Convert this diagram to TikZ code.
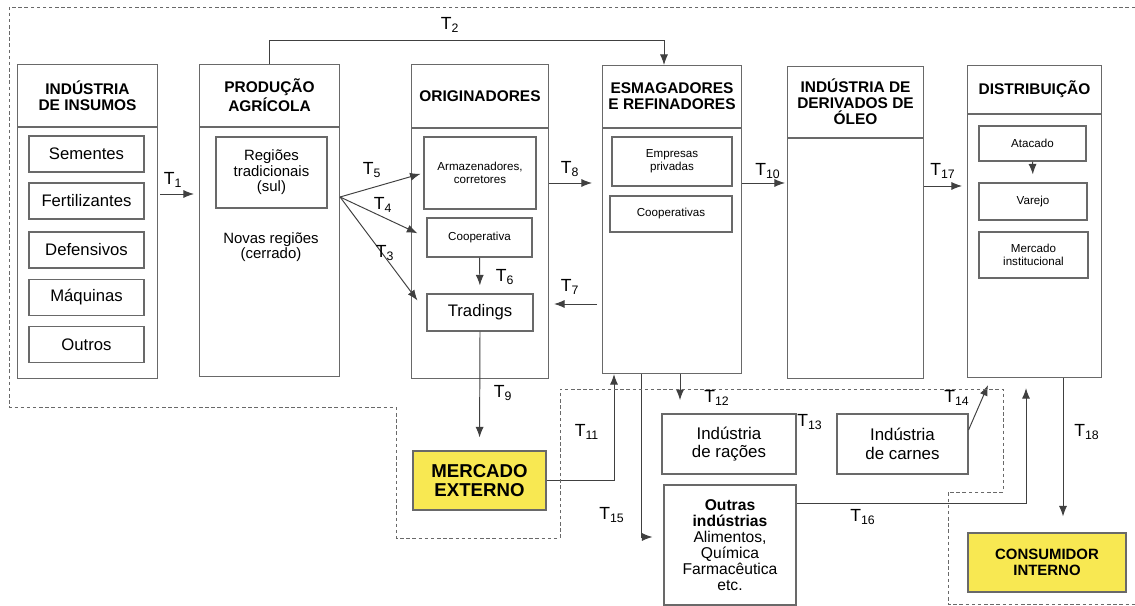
\documentclass[tikz,border=0pt]{standalone}
\usepackage{fontspec}
\setmainfont{Liberation Sans}
\usepackage[dvipsnames]{xcolor}
\usetikzlibrary{calc, arrows.meta}

\definecolor{boxGray}{RGB}{105,105,105}
\definecolor{mktYellow}{RGB}{248,232,82}
\newcommand{\Tsub}[1]{T\textsubscript{#1}}

\begin{document}
\begin{tikzpicture}[
	x=0.2mm, y=-0.2mm,
	hdr/.style={draw=boxGray, line width=.6pt, anchor=north west, align=center, inner sep=0pt, font=\fontsize{8.8}{9.2}\selectfont\bfseries},
	body/.style={draw=boxGray, line width=.6pt, anchor=north, inner sep=0pt},
	item/.style={draw=boxGray, line width=.6pt, align=center, inner sep=0pt, font=\fontsize{9.5}{10}\selectfont},
	small/.style={item, font=\fontsize{6.6}{7.3}\selectfont},
	market/.style={draw=boxGray, line width=.6pt, fill=mktYellow, align=center, inner sep=0pt},
	arrow/.style={-{Latex[length=6pt,width=4.6pt]}, black!75, line width=.55pt},
	tlab/.style={inner sep=0pt, font=\fontsize{10}{10}\selectfont},
	zone/.style={boxGray, line width=.5pt, dash pattern=on 2pt off 1.5pt}
	]
	
	\useasboundingbox (0,0) rectangle (1135,606);
	
	% cadeia principal
	\node[hdr, minimum width=28mm, minimum height=12.4mm] (insH) at (17,64) {INDÚSTRIA\\DE INSUMOS};
	\node[body, minimum width=28mm, minimum height=50.2mm] (insB) at (insH.south) {};
	\node[hdr, minimum width=28mm, minimum height=12.4mm] (prodH) at (199,64) {PRODUÇÃO\\AGRÍCOLA};
	\node[body, minimum width=28mm, minimum height=49.8mm] (prodB) at (prodH.south) {};
	\node[hdr, minimum width=27.4mm, minimum height=12.6mm] (origH) at (411,64) {ORIGINADORES};
	\node[body, minimum width=27.4mm, minimum height=50mm] (origB) at (origH.south) {};
	\node[hdr, minimum width=27.8mm, minimum height=12.4mm] (esmH) at (602,65) {ESMAGADORES\\E REFINADORES};
	\node[body, minimum width=27.8mm, minimum height=49mm] (esmB) at (esmH.south) {};
	\node[hdr, minimum width=27.2mm, minimum height=14.2mm] (dervH) at (787,66) {INDÚSTRIA DE\\DERIVADOS DE\\ÓLEO};
	\node[body, minimum width=27.2mm, minimum height=48mm] (dervB) at (dervH.south) {};
	\node[hdr, minimum width=26.8mm, minimum height=9.6mm] (distH) at (967,65) {DISTRIBUIÇÃO};
	\node[body, minimum width=26.8mm, minimum height=52.6mm] (distB) at (distH.south) {};
	
	% insumos
	\node[item, minimum width=23mm, minimum height=7.2mm] (sem) at (86.5,154) {Sementes};
	\node[item, minimum width=23mm, minimum height=7.2mm] (fert) at (86.5,201) {Fertilizantes};
	\node[item, minimum width=23mm, minimum height=7.2mm] (def) at (86.5,250) {Defensivos};
	\node[item, minimum width=23mm, minimum height=7.2mm] (maq) at (86.5,297.5) {Máquinas};
	\node[item, minimum width=23mm, minimum height=7.2mm] (outros) at (86.5,344.5) {Outros};
	
	% producao
	\node[item, font=\fontsize{8.5}{8.8}\selectfont, minimum width=22.2mm, minimum height=14.2mm] (reg) at (271.5,172.5) {Regiões\\tradicionais\\(sul)};
	\node[align=center, inner sep=0pt, font=\fontsize{8.5}{8.8}\selectfont] (nov) at (271,247) {Novas regiões\\(cerrado)};
	
	% originadores
	\node[small, minimum width=22.4mm, minimum height=14.4mm] (arm) at (480,173) {Armazenadores,\\corretores};
	\node[small, minimum width=21mm, minimum height=7.8mm] (coop) at (479.5,237.5) {Cooperativa};
	\node[item, minimum width=21.2mm, minimum height=7.4mm] (trad) at (480,312.5) {Tradings};
	
	% esmagadores
	\node[small, minimum width=24mm, minimum height=9.8mm] (emp) at (672,161.5) {Empresas\\privadas};
	\node[small, minimum width=24.4mm, minimum height=7.2mm] (coops) at (671,214) {Cooperativas};
	
	% distribuicao
	\node[small, minimum width=21.4mm, minimum height=7mm] (atac) at (1032.5,143.5) {Atacado};
	\node[small, minimum width=21.6mm, minimum height=7.4mm] (var) at (1033,201.5) {Varejo};
	\node[small, minimum width=21.8mm, minimum height=9.2mm] (minst) at (1033.5,255) {Mercado\\institucional};
	
	% mercados e outras industrias
	\node[market, font=\fontsize{10.6}{11.2}\selectfont\bfseries, minimum width=26.6mm, minimum height=11.8mm] (mext) at (479.5,480.5) {MERCADO\\EXTERNO};
	\node[item, font=\fontsize{9.6}{10.4}\selectfont, minimum width=26.8mm, minimum height=12mm] (rac) at (729,444) {Indústria\\de rações};
	\node[item, font=\fontsize{9.6}{10.4}\selectfont, minimum width=26.2mm, minimum height=12mm] (carn) at (902.5,444) {Indústria\\de carnes};
	\node[item, font=\fontsize{8.9}{9.1}\selectfont, minimum width=26.4mm, minimum height=24mm] (outr) at (730,545) {\textbf{Outras}\\\textbf{indústrias}\\Alimentos,\\Química\\Farmacêutica\\etc.};
	\node[market, font=\fontsize{8.5}{8.9}\selectfont\bfseries, minimum width=31.6mm, minimum height=11.8mm] (cons) at (1047,562.5) {CONSUMIDOR\\INTERNO};
	
	% fluxos
	\coordinate (fan) at (prodB.east |- 0,197);
	\draw[arrow, shorten <=.4mm, shorten >=1mm] (insB.east |- 0,194) -- (prodB.west |- 0,194);
	\draw[arrow] (prodH.north) -- (prodH.north |- 0,40) -| ($(esmH.north west)+(62,0)$);
	\draw[arrow, shorten >=.6mm] (fan) -- (arm.west);
	\draw[arrow, shorten >=2mm] (fan) -- (coop.west);
	\draw[arrow, shorten >=3mm] (fan) -- (trad.west);
	\draw[arrow, shorten >=1.6mm] (coop.south) -- (trad.north);
	\draw[arrow, shorten <=1mm, shorten >=1mm] (esmB.west |- 0,304) -- (origB.east |- 0,304);
	\draw[arrow, shorten >=2mm] (origB.east |- 0,183) -- (esmB.west |- 0,183);
	\draw[arrow, shorten >=.4mm] (esmB.east |- 0,183) -- (dervB.west |- 0,183);
	\draw[arrow, shorten >=1mm] (dervB.east |- 0,186) -- (distB.west |- 0,186);
	\draw[arrow, shorten >=1.6mm] (atac.south) -- (var.north);
	\draw[arrow, shorten >=2.6mm] (trad.south) -- (mext.north);
	\draw[arrow] (mext.east) -| ($(esmB.south west)+(12,0)$);
	\draw[arrow, shorten >=2.2mm] ($(esmB.south west)+(39,0)$) |- ($(outr.west)+(0,-8)$);
	\draw[arrow] ($(esmB.south west)+(78,0)$) -- ++(0,26);
	\draw[arrow] ([yshift=2.8mm]carn.east) -- ($(distB.south west)+(21,7)$);
	\draw[arrow] (outr.east |- 0,503) -| ($(distB.south west)+(59,10)$);
	\draw[arrow, shorten >=3.2mm] (distB.south -| 1063,0) -- (cons.north -| 1063,0);
	
	% transacoes
	\node[tlab] (t1) at (173,180) {\Tsub{1}};
	\node[tlab] (t2) at (450,25) {\Tsub{2}};
	\node[tlab] (t3) at (385,253) {\Tsub{3}};
	\node[tlab] (t4) at (383,205) {\Tsub{4}};
	\node[tlab] (t5) at (372,170) {\Tsub{5}};
	\node[tlab] (t6) at (505,277) {\Tsub{6}};
	\node[tlab] (t7) at (570,287) {\Tsub{7}};
	\node[tlab] (t8) at (570,169) {\Tsub{8}};
	\node[tlab] (t9) at (503,393) {\Tsub{9}};
	\node[tlab] (t10) at (768,171) {\Tsub{10}};
	\node[tlab] (t11) at (587,432) {\Tsub{11}};
	\node[tlab] (t12) at (717,398) {\Tsub{12}};
	\node[tlab] (t13) at (810,422) {\Tsub{13}};
	\node[tlab] (t14) at (957,398) {\Tsub{14}};
	\node[tlab] (t15) at (612,515) {\Tsub{15}};
	\node[tlab] (t16) at (863,517) {\Tsub{16}};
	\node[tlab] (t17) at (943,171) {\Tsub{17}};
	\node[tlab] (t18) at (1087,432) {\Tsub{18}};
	
	% fronteiras
	\draw[zone] (1135,7) -- (9,7) -- (9,407) -- (396,407) -- (396,538) -- (560,538) -- (560,389) -- (1003,389) -- (1003,492) -- (948,492) -- (948,604) -- (1135,604);
\end{tikzpicture}
\end{document}
